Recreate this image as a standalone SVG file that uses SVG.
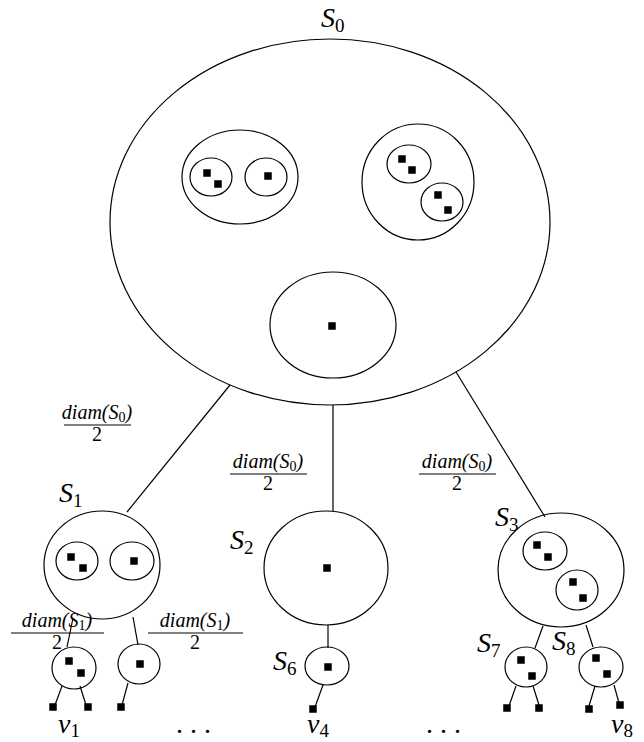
<svg xmlns="http://www.w3.org/2000/svg" width="644" height="742" viewBox="0 0 644 742">
<style>
.n{fill:none;stroke:#000;stroke-width:1.2}
.e{stroke:#000;stroke-width:1.2;fill:none}
.lab{font-family:"Liberation Serif","DejaVu Serif",serif;font-style:italic;font-size:28px;fill:#000}
.sub{font-style:normal;font-size:19px}
.fr{font-family:"Liberation Serif","DejaVu Serif",serif;font-style:italic;font-size:20px;fill:#000}
.fs{font-style:normal;font-size:14px}
.num{font-style:normal}
.bar{stroke:#000;stroke-width:1}
</style>
<defs>
<rect id="d" x="-3.75" y="-3.75" width="7.5" height="7.5" fill="#000"/>
</defs>
<rect width="644" height="742" fill="#fff"/>
<g id="connectors">
<line class="e" x1="230" y1="385" x2="127" y2="512"/>
<line class="e" x1="333" y1="405" x2="333" y2="511"/>
<line class="e" x1="456" y1="372" x2="545" y2="517"/>
<line class="e" x1="73" y1="618" x2="67" y2="647"/>
<line class="e" x1="133" y1="617" x2="138" y2="645"/>
<line class="e" x1="62" y1="686" x2="55" y2="705"/>
<line class="e" x1="80" y1="686" x2="86" y2="705"/>
<line class="e" x1="128" y1="683" x2="122" y2="705"/>
<line class="e" x1="328" y1="625" x2="328" y2="648"/>
<line class="e" x1="323" y1="685" x2="315" y2="707"/>
<line class="e" x1="543" y1="626" x2="535" y2="648"/>
<line class="e" x1="586" y1="625" x2="593" y2="647"/>
<line class="e" x1="516" y1="686" x2="509" y2="706"/>
<line class="e" x1="533" y1="686" x2="539" y2="705"/>
<line class="e" x1="595" y1="686" x2="589" y2="706"/>
<line class="e" x1="614" y1="685" x2="619" y2="703"/>
</g>
<g id="S0">
<ellipse class="n" cx="330" cy="222" rx="220" ry="183"/>
<text class="lab" x="321" y="27">S<tspan class="sub" dy="5">0</tspan></text>
</g>
<g id="S0a">
<ellipse class="n" cx="240" cy="177" rx="58" ry="47"/>
</g>
<g id="S0a1"><ellipse class="n" cx="211" cy="177" rx="21" ry="19"/><use href="#d" x="207" y="173"/><use href="#d" x="218" y="184"/></g>
<g id="S0a2"><ellipse class="n" cx="266" cy="177" rx="21" ry="19"/><use href="#d" x="268" y="176"/></g>
<g id="S0b">
<ellipse class="n" cx="418" cy="182" rx="56" ry="58"/>
</g>
<g id="S0b1"><ellipse class="n" cx="409" cy="164" rx="22" ry="19"/><use href="#d" x="402" y="159"/><use href="#d" x="412" y="170"/></g>
<g id="S0b2"><ellipse class="n" cx="442" cy="202" rx="21" ry="19"/><use href="#d" x="438" y="195"/><use href="#d" x="448" y="210"/></g>
<g id="S0c"><ellipse class="n" cx="333" cy="325" rx="63" ry="53"/><use href="#d" x="332" y="326"/></g>
<g id="S1">
<ellipse class="n" cx="102" cy="565" rx="58" ry="54"/>
<text class="lab" x="59" y="502">S<tspan class="sub" dy="5">1</tspan></text>
</g>
<g id="S1a"><ellipse class="n" cx="77" cy="561" rx="21" ry="19"/><use href="#d" x="71" y="557"/><use href="#d" x="83" y="568"/></g>
<g id="S1b"><ellipse class="n" cx="132" cy="561" rx="22" ry="19"/><use href="#d" x="134" y="561"/></g>
<g id="S2">
<ellipse class="n" cx="326" cy="568" rx="62" ry="57"/>
<use href="#d" x="327" y="568"/>
<text class="lab" x="230" y="549">S<tspan class="sub" dy="5">2</tspan></text>
</g>
<g id="S3">
<ellipse class="n" cx="561" cy="570" rx="63" ry="57"/>
<text class="lab" x="495" y="526">S<tspan class="sub" dy="5">3</tspan></text>
</g>
<g id="S3a"><ellipse class="n" cx="545" cy="551" rx="22" ry="19"/><use href="#d" x="537" y="545"/><use href="#d" x="548" y="557"/></g>
<g id="S3b"><ellipse class="n" cx="577" cy="590" rx="21" ry="20"/><use href="#d" x="573" y="582"/><use href="#d" x="583" y="598"/></g>
<g id="S4"><ellipse class="n" cx="74" cy="668" rx="22" ry="21"/><use href="#d" x="69" y="661"/><use href="#d" x="81" y="673"/></g>
<g id="S5"><ellipse class="n" cx="139" cy="664" rx="21" ry="20"/><use href="#d" x="140" y="664"/></g>
<g id="S6">
<ellipse class="n" cx="327" cy="666" rx="22" ry="19"/>
<use href="#d" x="328" y="667"/>
<text class="lab" x="273" y="670">S<tspan class="sub" dy="5">6</tspan></text>
</g>
<g id="S7">
<ellipse class="n" cx="526" cy="667" rx="21" ry="20"/>
<use href="#d" x="521" y="660"/><use href="#d" x="532" y="676"/>
<text class="lab" x="477" y="652">S<tspan class="sub" dy="5">7</tspan></text>
</g>
<g id="S8">
<ellipse class="n" cx="601" cy="667" rx="22" ry="20"/>
<use href="#d" x="596" y="658"/><use href="#d" x="607" y="674"/>
<text class="lab" x="552" y="650">S<tspan class="sub" dy="5">8</tspan></text>
</g>
<g id="leaves">
<use href="#d" x="53" y="707"/><use href="#d" x="88" y="707"/><use href="#d" x="121" y="707"/>
<use href="#d" x="313" y="709"/>
<use href="#d" x="507" y="708"/><use href="#d" x="539" y="708"/>
<use href="#d" x="589" y="709"/><use href="#d" x="620" y="705"/>
</g>
<g id="bottom-labels">
<text class="lab" x="58" y="733">v<tspan class="sub" dy="4">1</tspan></text>
<text class="lab" x="307" y="733">v<tspan class="sub" dy="4">4</tspan></text>
<text class="lab" x="611" y="733">v<tspan class="sub" dy="4">8</tspan></text>
<text class="lab" x="176" y="733" style="font-style:normal">. . .</text>
<text class="lab" x="426" y="733" style="font-style:normal">. . .</text>
</g>
<g id="edge-labels">
<g>
<text class="fr" x="97" y="419" text-anchor="middle">diam(S<tspan class="fs" dy="3">0</tspan><tspan dy="-3">)</tspan></text>
<line class="bar" x1="64" y1="425" x2="131" y2="425"/>
<text class="fr num" x="97" y="441" text-anchor="middle">2</text>
</g>
<g>
<text class="fr" x="268" y="468" text-anchor="middle">diam(S<tspan class="fs" dy="3">0</tspan><tspan dy="-3">)</tspan></text>
<line class="bar" x1="230" y1="474" x2="307" y2="474"/>
<text class="fr num" x="268" y="490" text-anchor="middle">2</text>
</g>
<g>
<text class="fr" x="457" y="468" text-anchor="middle">diam(S<tspan class="fs" dy="3">0</tspan><tspan dy="-3">)</tspan></text>
<line class="bar" x1="419" y1="474" x2="496" y2="474"/>
<text class="fr num" x="457" y="490" text-anchor="middle">2</text>
</g>
<g>
<text class="fr" x="57" y="627" text-anchor="middle">diam(S<tspan class="fs" dy="3">1</tspan><tspan dy="-3">)</tspan></text>
<line class="bar" x1="11" y1="633" x2="104" y2="633"/>
<text class="fr num" x="57" y="649" text-anchor="middle">2</text>
</g>
<g>
<text class="fr" x="195" y="627" text-anchor="middle">diam(S<tspan class="fs" dy="3">1</tspan><tspan dy="-3">)</tspan></text>
<line class="bar" x1="148" y1="633" x2="243" y2="633"/>
<text class="fr num" x="195" y="649" text-anchor="middle">2</text>
</g>
</g>
</svg>
